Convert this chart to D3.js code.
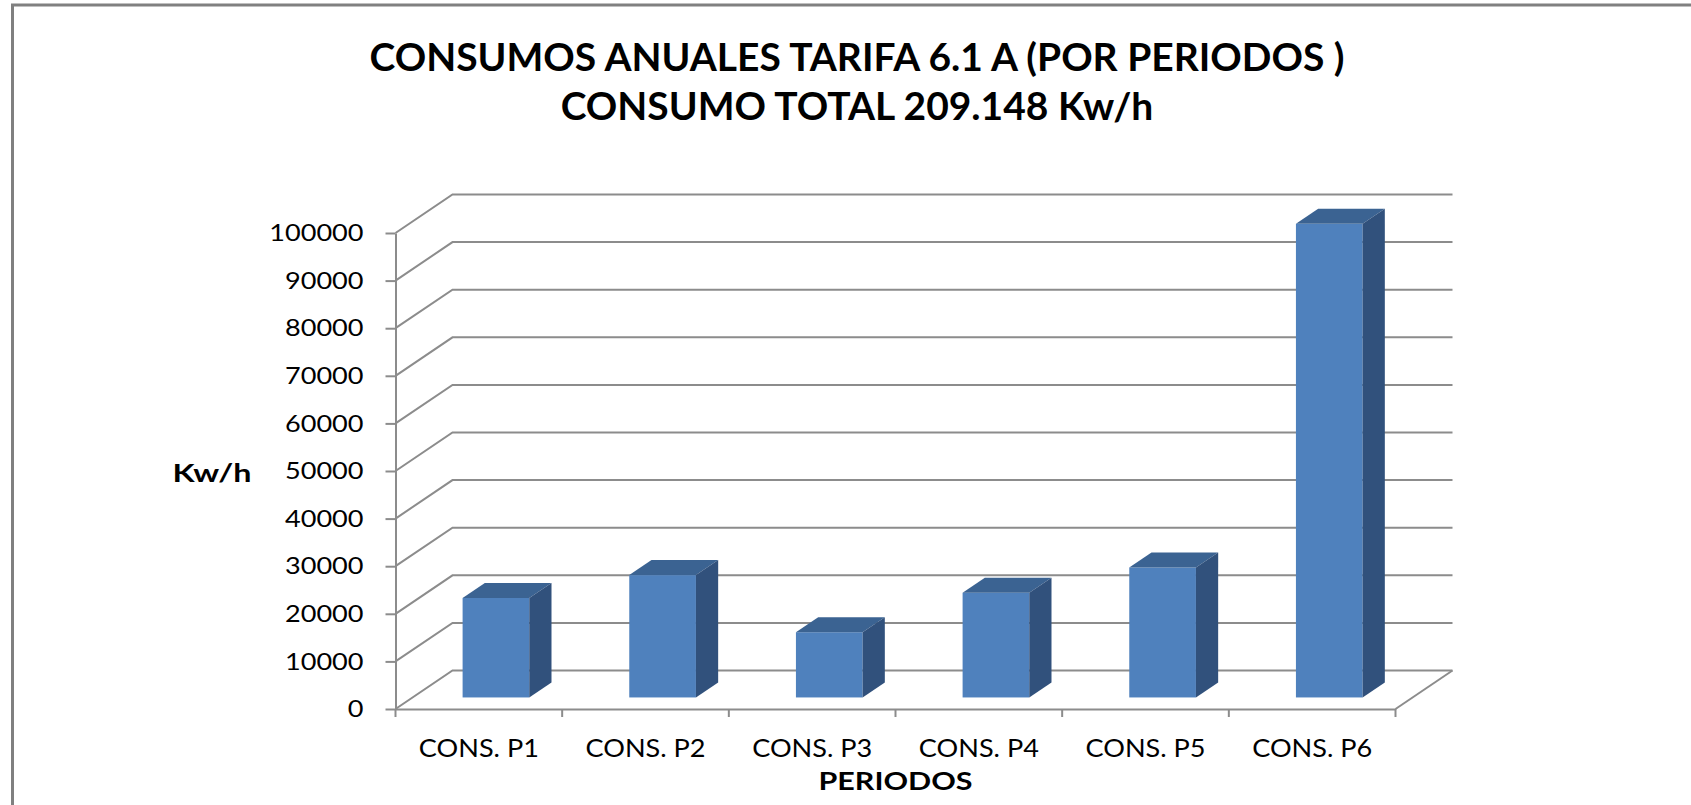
<!DOCTYPE html>
<html>
<head>
<meta charset="utf-8">
<script src="https://cdn.jsdelivr.net/npm/d3@7"></script>
<style>
  body { margin: 0; background: #fff; }
  text { font-family: Lato, "Open Sans", sans-serif; fill: #000; }
</style>
</head>
<body>
<script>
// datos
const categories = ["CONS. P1", "CONS. P2", "CONS. P3", "CONS. P4", "CONS. P5", "CONS. P6"];
const consumo = [20900, 25700, 13700, 22000, 27300, 99500];
const yTicks = [0, 10000, 20000, 30000, 40000, 50000, 60000, 70000, 80000, 90000, 100000];
const titleLines = ["CONSUMOS ANUALES TARIFA 6.1 A (POR PERIODOS )", "CONSUMO TOTAL 209.148 Kw/h"];
const yTitle = "Kw/h";
const xTitle = "PERIODOS";

const W = 1691, H = 805;
const gridColor = "#8c8c8c";

const svg = d3.select("body").append("svg")
  .attr("width", W)
  .attr("height", H);

// marco del grafico
svg.append("path")
  .attr("d", `M12.5,${H} L12.5,5 L${W},5`)
  .attr("fill", "none")
  .attr("stroke", "#808080")
  .attr("stroke-width", 3);

const x = d3.scaleBand().domain(categories).range([395.5, 1395.5]);
const y = d3.scaleLinear().domain([0, 100000]).range([709, 233]);

// vector de profundidad (3D oblicuo)
const DX = 57, DY = -38.5;
const zFront = 0.3, zBack = 0.69;
const barRatio = 0.4;
const x0 = x.range()[0], x1 = x.range()[1];

// pared lateral y pared del fondo
const grid = svg.append("g")
  .attr("fill", "none")
  .attr("stroke", gridColor)
  .attr("stroke-width", 2);

grid.selectAll("path.wall")
  .data(yTicks)
  .join("path")
  .attr("class", "wall")
  .attr("d", (d) => `M${x0},${y(d)} L${x0 + DX},${y(d) + DY} L${x1 + DX},${y(d) + DY}`);

// borde derecho del suelo
grid.append("path")
  .attr("d", `M${x1},${y(0)} L${x1 + DX},${y(0) + DY}`);

// barras
const bw = x.bandwidth() * barRatio;
const sx = (zBack - zFront) * DX, sy = (zBack - zFront) * DY;

const bars = svg.append("g")
  .selectAll("g")
  .data(categories.map((c, i) => ({ c, v: consumo[i] })))
  .join("g")
  .attr("transform", (d) => `translate(${x(d.c) + (x.bandwidth() - bw) / 2 + zFront * DX},${zFront * DY})`);

// cara frontal
bars.append("rect")
  .attr("x", 0)
  .attr("y", (d) => y(d.v))
  .attr("width", bw)
  .attr("height", (d) => y(0) - y(d.v))
  .attr("fill", "#4f81bd");

// cara superior
bars.append("path")
  .attr("d", (d) => `M0,${y(d.v)} L${sx},${y(d.v) + sy} L${bw + sx},${y(d.v) + sy} L${bw},${y(d.v)} Z`)
  .attr("fill", "#3b6392");

// cara lateral
bars.append("path")
  .attr("d", (d) => `M${bw},${y(d.v)} L${bw + sx},${y(d.v) + sy} L${bw + sx},${y(0) + sy} L${bw},${y(0)} Z`)
  .attr("fill", "#31517c");

// eje Y
const yAxis = svg.append("g")
  .attr("transform", `translate(${x0},0)`)
  .call(
    d3.axisLeft(y)
      .tickValues(yTicks)
      .tickSize(10)
      .tickSizeOuter(0)
      .tickPadding(22)
      .tickFormat(d3.format("d"))
  );
yAxis.selectAll("path, line").attr("stroke", gridColor).attr("stroke-width", 2);
yAxis.selectAll("text")
  .attr("font-family", "Lato, 'Open Sans', sans-serif")
  .attr("font-size", 24)
  .attr("fill", "#000")
  .attr("textLength", (d) => String(d).length * 15.7)
  .attr("lengthAdjust", "spacingAndGlyphs");

// eje X
const xAxis = svg.append("g")
  .attr("transform", `translate(0,${y(0)})`)
  .call(d3.axisBottom(x).tickSize(0).tickSizeOuter(0).tickPadding(30));
xAxis.select(".domain").attr("stroke", gridColor).attr("stroke-width", 2);
xAxis.selectAll("text")
  .attr("font-family", "Lato, 'Open Sans', sans-serif")
  .attr("font-size", 25)
  .attr("fill", "#000")
  .attr("textLength", 120)
  .attr("lengthAdjust", "spacingAndGlyphs");

// marcas entre categorias
xAxis.selectAll("line.sep")
  .data(categories.map((c) => x(c)).concat([x1]))
  .join("line")
  .attr("class", "sep")
  .attr("x1", (d) => d)
  .attr("x2", (d) => d)
  .attr("y1", 0)
  .attr("y2", 8)
  .attr("stroke", gridColor)
  .attr("stroke-width", 2);

// titulos: mismo estiramiento horizontal en ambas lineas
const titles = svg.selectAll("text.title")
  .data(titleLines)
  .join("text")
  .attr("class", "title")
  .attr("x", 857)
  .attr("y", (d, i) => 71 + i * 49)
  .attr("text-anchor", "middle")
  .attr("font-size", 38)
  .attr("font-weight", "bold")
  .text((d) => d);

const natural = titles.nodes().map((n) => n.getComputedTextLength());
const stretch = 975 / natural[0];
titles
  .attr("textLength", (d, i) => natural[i] * stretch)
  .attr("lengthAdjust", "spacingAndGlyphs");

svg.append("text")
  .attr("x", 212)
  .attr("y", 482)
  .attr("text-anchor", "middle")
  .attr("font-size", 25)
  .attr("font-weight", "bold")
  .attr("textLength", 79)
  .attr("lengthAdjust", "spacingAndGlyphs")
  .text(yTitle);

svg.append("text")
  .attr("x", (x0 + x1) / 2)
  .attr("y", 790)
  .attr("text-anchor", "middle")
  .attr("font-size", 25)
  .attr("font-weight", "bold")
  .attr("textLength", 154)
  .attr("lengthAdjust", "spacingAndGlyphs")
  .text(xTitle);
</script>
</body>
</html>
